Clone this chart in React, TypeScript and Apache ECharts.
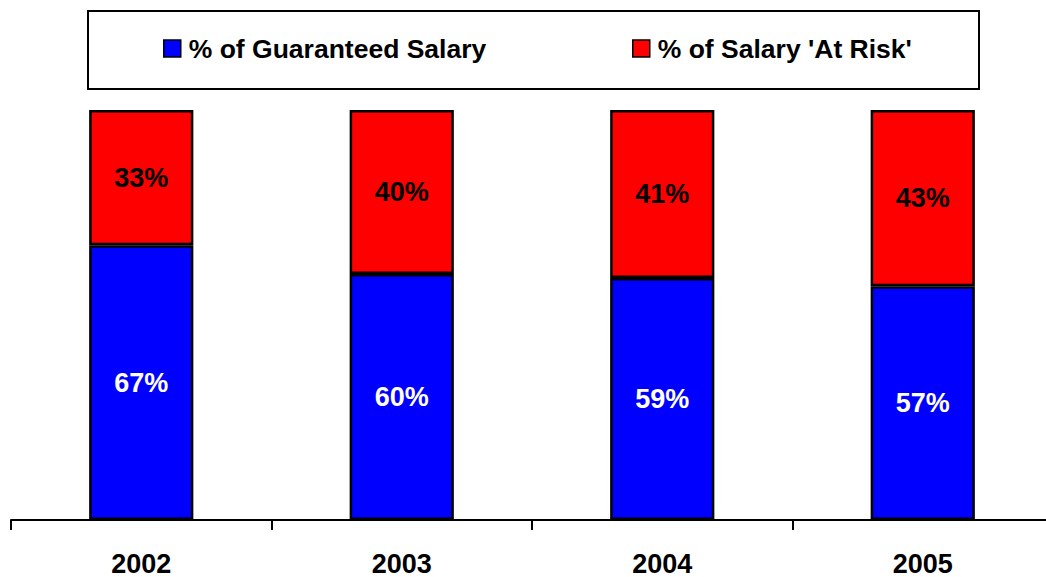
import React, { useEffect, useRef } from "react";
import * as echarts from "echarts";

const years = ["2002", "2003", "2004", "2005"];
const guaranteed = [67, 60, 59, 57];
const atRisk = [33, 40, 41, 43];
const seriesNames = ["% of Guaranteed Salary", "% of Salary 'At Risk'"];

const FONT = "'Liberation Sans', Arial, Helvetica, sans-serif";

export default function App() {
  const ref = useRef<HTMLDivElement>(null);
  useEffect(() => {
    if (!ref.current) return;
    const chart = echarts.init(ref.current, undefined, { renderer: "svg" });
    const labelBase = {
      show: true,
      position: "inside",
      fontSize: 27,
      fontWeight: "bold",
      fontFamily: FONT,
      formatter: "{c}%",
    };
    const legendBase = {
      top: 35,
      padding: 0,
      itemWidth: 17,
      itemHeight: 17,
      icon: "rect",
      itemStyle: { borderColor: "#000", borderWidth: 1.5 },
      textStyle: { fontSize: 26.5, fontWeight: "bold", fontFamily: FONT, color: "#000", padding: [0, 0, 0, 3] },
      selectedMode: false,
    };
    chart.setOption({
      animation: false,
      backgroundColor: "#ffffff",
      graphic: [
        {
          type: "rect",
          z: -1,
          shape: { x: 88, y: 11, width: 891, height: 78 },
          style: { fill: "#ffffff", stroke: "#000000", lineWidth: 2 },
        },
      ],
      legend: [
        { ...legendBase, data: [seriesNames[0]], left: 163 },
        { ...legendBase, data: [seriesNames[1]], left: 632 },
      ],
      grid: { left: 11, right: 0, top: 110, bottom: 54, containLabel: false },
      xAxis: {
        type: "category",
        data: years,
        boundaryGap: true,
        axisLine: { show: true, lineStyle: { color: "#000", width: 2 } },
        axisTick: { show: true, length: 10, lineStyle: { color: "#000", width: 2 } },
        axisLabel: { fontSize: 27, fontWeight: "bold", fontFamily: FONT, color: "#000", margin: 30 },
      },
      yAxis: { type: "value", min: 0, max: 100, show: false },
      series: [
        {
          name: seriesNames[0],
          type: "bar",
          stack: "total",
          barWidth: "40%",
          data: guaranteed,
          itemStyle: { color: "#0000ff", borderColor: "#000", borderWidth: 2.5 },
          label: { ...labelBase, color: "#ffffff" },
        },
        {
          name: seriesNames[1],
          type: "bar",
          stack: "total",
          barWidth: "40%",
          data: atRisk,
          itemStyle: { color: "#ff0000", borderColor: "#000", borderWidth: 2.5 },
          label: { ...labelBase, color: "#000000" },
        },
      ],
    });
    return () => chart.dispose();
  }, []);
  return (
    <div style={{ position: "absolute", left: 0, top: 0, width: 1046, height: 577, overflow: "hidden" }}>
      <div ref={ref} style={{ width: 1053, height: 577 }} />
    </div>
  );
}
